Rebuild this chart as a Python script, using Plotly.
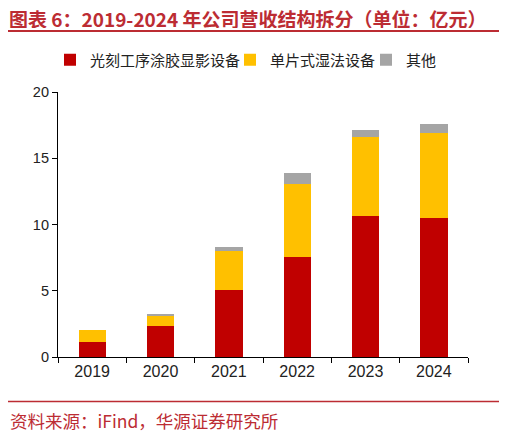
import plotly.graph_objects as go

# 营收结构（亿元）
years = ["2019", "2020", "2021", "2022", "2023", "2024"]
litho = [1.10, 2.36, 5.07, 7.56, 10.67, 10.50]
wet = [0.96, 0.77, 2.92, 5.50, 5.95, 6.43]
other = [0.00, 0.13, 0.34, 0.81, 0.51, 0.63]

names = ["光刻工序涂胶显影设备", "单片式湿法设备", "其他"]
colors = ["#C00000", "#FFC000", "#A5A5A5"]

# the page body adds ~8px margin, so shift the plot up/left by that much
OFF = 8
W, H = 507, 434
L, T = 58, 92          # plot area left/top in reference pixels
pw, ph = 410, 265
ml, mt = L - OFF, T - OFF
mr, mb = W - ml - pw, H - mt - ph


def px_x(px):
    return (px - L) / pw


def px_y(py):
    return (T + ph - py) / ph


font = "Liberation Sans, Arial, sans-serif"
cjk = "Noto Sans CJK SC, sans-serif"
red = "#BC2C33"

legend_ids = ["legend", "legend2", "legend3"]
legend_x = [50, 230, 366]

fig = go.Figure()
for name, vals, col, lid in zip(names, [litho, wet, other], colors, legend_ids):
    fig.add_trace(go.Bar(x=years, y=vals, name=name, marker_color=col,
                         marker_line_width=0, width=0.4, legend=lid))

legend_common = dict(orientation="h", yanchor="middle", y=px_y(60), xanchor="left",
                     font=dict(size=15, color="#222", family=cjk), itemwidth=30,
                     bgcolor="rgba(0,0,0,0)")

fig.update_layout(
    barmode="stack",
    width=W, height=H,
    margin=dict(l=ml, r=mr, t=mt, b=mb, autoexpand=False),
    plot_bgcolor="white", paper_bgcolor="white",
    font=dict(family=font, size=15, color="#222"),
    showlegend=True,
    legend=dict(legend_common, x=px_x(legend_x[0])),
    legend2=dict(legend_common, x=px_x(legend_x[1])),
    legend3=dict(legend_common, x=px_x(legend_x[2])),
)

fig.update_xaxes(showline=True, linecolor="black", linewidth=1.2, ticks="outside",
                 tickson="boundaries", ticklen=5, tickcolor="black", showgrid=False,
                 automargin=False, tickfont=dict(size=16, color="#222"))
fig.update_yaxes(range=[0, 20], dtick=5, showline=True, linecolor="black", linewidth=1.2,
                 ticks="outside", ticklen=5, tickcolor="black", showgrid=False, zeroline=False,
                 automargin=False, tickfont=dict(size=14.5, color="#222"))

# title and source lines
fig.add_shape(type="line", xref="paper", yref="paper", x0=px_x(OFF), x1=px_x(501),
              y0=px_y(31), y1=px_y(31), line=dict(color=red, width=2))
fig.add_shape(type="line", xref="paper", yref="paper", x0=px_x(OFF), x1=px_x(501),
              y0=px_y(401.5), y1=px_y(401.5), line=dict(color=red, width=1.5))

fig.add_annotation(text="<b>图表 6：2019-2024 年公司营收结构拆分（单位：亿元）</b>",
                   xref="paper", yref="paper", x=px_x(OFF), y=px_y(18),
                   xanchor="left", yanchor="middle", showarrow=False, height=20,
                   borderpad=0, font=dict(size=19, color=red, family=cjk))
fig.add_annotation(text="资料来源：iFind，华源证券研究所",
                   xref="paper", yref="paper", x=px_x(OFF), y=px_y(420),
                   xanchor="left", yanchor="middle", showarrow=False,
                   font=dict(size=17.5, color=red, family=cjk))

fig.write_html("out.html")
